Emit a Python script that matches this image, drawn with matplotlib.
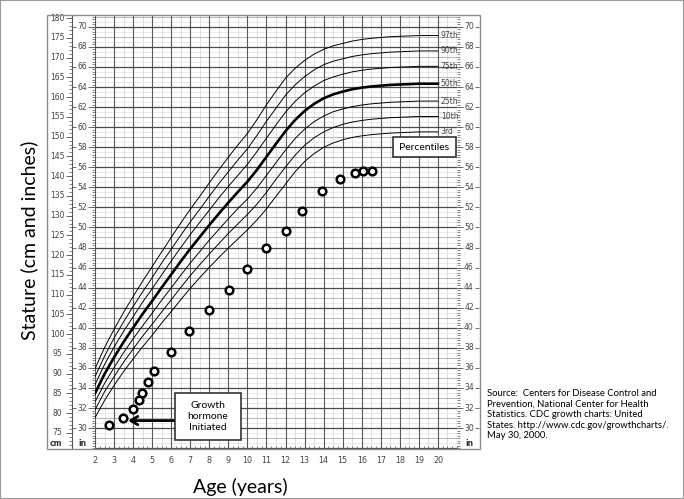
import numpy as np
import matplotlib.pyplot as plt
from matplotlib.patches import Rectangle

W, H = 684, 499

# CDC girls stature-for-age percentiles (cm) at half-year steps
ages = [2.0, 2.5, 3.0, 3.5, 4.0, 4.5, 5.0, 5.5, 6.0, 6.5, 7.0, 7.5, 8.0, 8.5, 9.0, 9.5,
        10.0, 10.5, 11.0, 11.5, 12.0, 12.5, 13.0, 13.5, 14.0, 14.5, 15.0, 15.5, 16.0,
        16.5, 17.0, 17.5, 18.0, 18.5, 19.0, 19.5, 20.0]
p3 = [78.8, 83.2, 87.0, 90.5, 93.7, 96.8, 99.7, 102.8, 105.7, 108.7, 111.6, 114.3, 116.9,
      119.4, 121.8, 124.1, 126.4, 128.9, 131.7, 134.9, 138.0, 141.1, 143.7, 145.7, 147.3,
      148.4, 149.2, 149.8, 150.2, 150.5, 150.7, 150.9, 151.0, 151.1, 151.2, 151.2, 151.2]
p10 = [80.8, 85.4, 89.2, 92.9, 96.2, 99.5, 102.5, 105.6, 108.7, 111.8, 114.8, 117.6, 120.3,
       122.9, 125.5, 127.9, 130.3, 132.9, 135.9, 139.2, 142.3, 145.3, 147.8, 149.7, 151.2,
       152.3, 153.1, 153.7, 154.1, 154.4, 154.6, 154.8, 154.9, 155.0, 155.1, 155.1, 155.1]
p25 = [82.8, 87.5, 91.5, 95.3, 98.8, 102.1, 105.3, 108.6, 111.7, 114.9, 118.0, 120.9, 123.8,
       126.5, 129.2, 131.8, 134.2, 137.0, 140.2, 143.4, 146.6, 149.5, 151.9, 153.8, 155.2,
       156.3, 157.0, 157.6, 158.0, 158.3, 158.5, 158.7, 158.8, 158.9, 159.0, 159.0, 159.0]
p50 = [85.0, 89.9, 94.1, 98.0, 101.6, 105.1, 108.4, 111.8, 115.1, 118.4, 121.6, 124.6, 127.6,
       130.5, 133.3, 136.0, 138.6, 141.6, 144.9, 148.2, 151.4, 154.2, 156.5, 158.3, 159.7,
       160.7, 161.4, 162.0, 162.4, 162.7, 162.9, 163.1, 163.2, 163.3, 163.4, 163.4, 163.4]
p75 = [87.2, 92.3, 96.7, 100.7, 104.4, 108.1, 111.5, 115.0, 118.5, 121.9, 125.2, 128.3, 131.4,
       134.5, 137.4, 140.2, 143.0, 146.2, 149.6, 153.0, 156.2, 158.9, 161.1, 162.8, 164.2,
       165.1, 165.8, 166.4, 166.8, 167.1, 167.3, 167.5, 167.6, 167.7, 167.8, 167.8, 167.8]
p90 = [89.2, 94.4, 99.0, 103.1, 107.0, 110.7, 114.3, 118.0, 121.5, 125.0, 128.4, 131.6, 134.9,
       138.1, 141.1, 144.1, 146.9, 150.3, 153.9, 157.2, 160.5, 163.1, 165.2, 166.9, 168.2,
       169.1, 169.7, 170.3, 170.7, 171.0, 171.2, 171.4, 171.5, 171.6, 171.7, 171.7, 171.7]
p97 = [91.2, 96.6, 101.2, 105.5, 109.5, 113.4, 117.1, 120.8, 124.5, 128.1, 131.6, 134.9, 138.3,
       141.6, 144.8, 147.9, 150.8, 154.3, 158.1, 161.5, 164.8, 167.3, 169.3, 170.9, 172.1,
       173.0, 173.6, 174.2, 174.6, 174.9, 175.1, 175.3, 175.4, 175.5, 175.6, 175.6, 175.6]
pct_names = ['3rd', '10th', '25th', '50th', '75th', '90th', '97th']
pct_series = [p3, p10, p25, p50, p75, p90, p97]

# patient measurements
pt_age = [2.75, 3.49, 3.98, 4.32, 4.49, 4.77, 5.12, 6.0, 6.95, 8.0, 9.05, 10.0,
          11.0, 12.0, 12.88, 13.93, 14.86, 15.63, 16.07, 16.56]
pt_cm = [76.9, 78.8, 81.0, 83.3, 85.0, 87.8, 90.6, 95.5, 100.7, 106.0, 111.2, 116.5,
         121.7, 126.1, 131.1, 136.2, 139.2, 140.9, 141.3, 141.4]

age_ticks = list(range(2, 21))
cm_ticks = list(range(75, 181, 5))
in_ticks = list(range(30, 71, 2))

fig = plt.figure(figsize=(W / 100, H / 100), dpi=100)
ax = fig.add_axes([95 / W, 1 - 449 / H, 362 / W, 434 / H])
ax.set_xlim(2, 21)
ax.set_ylim(70.9, 180.8)
for s in ax.spines.values():
    s.set_visible(False)


def fx(px):
    return (px - 95) / 362


def fig_xy(px, py):
    return px / W, 1 - py / H


# grid
for a in np.arange(2, 21.01, 0.5):
    if a == int(a):
        ax.axvline(a, color='#5a5a5a', lw=0.8, zorder=1)
    else:
        ax.axvline(a, color='#d9d9d9', lw=0.6, zorder=0.5)
for i in np.arange(28, 71.01, 0.5):
    y = i * 2.54
    if i % 2 == 0:
        ax.axhline(y, color='#4a4a4a', lw=0.9, zorder=1)
    elif i == int(i):
        ax.axhline(y, color='#a8a8a8', lw=0.6, zorder=0.8)
    else:
        ax.axhline(y, color='#e2e2e2', lw=0.5, zorder=0.5)

# percentile curves
for name, vals in zip(pct_names, pct_series):
    lw = 1.9 if name == '50th' else 0.7
    ax.plot(ages, vals, color='black', lw=lw, zorder=3)
    ax.text(20.15, vals[-1], name, fontsize=5.5, color='#444444', va='center', ha='left',
            family='DejaVu Sans', zorder=4)

# patient points
ax.plot(pt_age, pt_cm, 'o', ms=5.5, mfc='white', mec='black', mew=1.8, zorder=5)

# scales
yt = ax.get_yaxis_transform()
tick_col = '#555555'
ax.vlines(fx(72), 70.9, 180.8, transform=yt, color=tick_col, lw=0.8, clip_on=False)
ax.hlines(np.arange(71, 181, 1), fx(69), fx(72), transform=yt, color=tick_col, lw=0.5, clip_on=False)
ax.hlines(cm_ticks, fx(66), fx(72), transform=yt, color=tick_col, lw=0.6, clip_on=False)
for c in cm_ticks:
    ax.text(fx(57), c, str(c), transform=yt, fontsize=5.5, color='#444444', ha='center', va='center')
in_cm = [v * 2.54 for v in in_ticks]
minor_in = np.arange(28, 71.01, 0.25) * 2.54
ax.hlines(minor_in, fx(92), fx(95), transform=yt, color=tick_col, lw=0.5, clip_on=False)
ax.hlines(in_cm, fx(72), fx(76), transform=yt, color=tick_col, lw=0.6, clip_on=False)
ax.hlines(in_cm, fx(88), fx(95), transform=yt, color=tick_col, lw=0.6, clip_on=False)
ax.hlines(minor_in, fx(457), fx(460), transform=yt, color=tick_col, lw=0.5, clip_on=False)
ax.hlines(in_cm, fx(457), fx(463), transform=yt, color=tick_col, lw=0.6, clip_on=False)
ax.hlines(in_cm, fx(475), fx(479), transform=yt, color=tick_col, lw=0.6, clip_on=False)
for v, c in zip(in_ticks, in_cm):
    ax.text(fx(82), c, str(v), transform=yt, fontsize=5.5, color='#444444', ha='center', va='center')
    ax.text(fx(469), c, str(v), transform=yt, fontsize=5.5, color='#444444', ha='center', va='center')
fig.text(*fig_xy(56, 444), 'cm', fontsize=5.5, color='#333333', ha='center', va='center', weight='bold')
fig.text(*fig_xy(82, 444), 'in', fontsize=5.5, color='#333333', ha='center', va='center', weight='bold')
fig.text(*fig_xy(469, 444), 'in', fontsize=5.5, color='#333333', ha='center', va='center', weight='bold')

ax.set_yticks([])
ax.set_xticks(age_ticks)
ax.set_xticks(np.arange(2, 21.01, 0.25), minor=True)
ax.tick_params(axis='x', which='major', direction='in', length=4, width=0.6, color=tick_col,
               labelsize=5.8, labelcolor='#444444', pad=5)
ax.tick_params(axis='x', which='minor', direction='in', length=2, width=0.5, color=tick_col)

# chart frame and picture border
x0, y0 = fig_xy(47, 449)
x1, y1 = fig_xy(480, 15)
fig.patches.append(Rectangle((x0, y0), x1 - x0, y1 - y0, transform=fig.transFigure,
                             fill=False, edgecolor='#8c8c8c', lw=1))
fig.patches.append(Rectangle((0, 0), 1, 1, transform=fig.transFigure,
                             fill=False, edgecolor='#9a9a9a', lw=1.5))

# axis titles
fig.text(*fig_xy(29, 240), 'Stature (cm and inches)', rotation=90, fontsize=14,
         family='Lato', ha='center', va='center')
fig.text(*fig_xy(240, 487), 'Age (years)', fontsize=14, family='Lato', ha='center', va='center')

# boxes
bx0, by0 = fig_xy(393, 157)
bx1, by1 = fig_xy(456, 137)
fig.patches.append(Rectangle((bx0, by0), bx1 - bx0, by1 - by0, transform=fig.transFigure,
                             facecolor='white', edgecolor='#333333', lw=1.2, zorder=6))
fig.text(*fig_xy(424.5, 147), 'Percentiles', fontsize=7.5, family='Lato', ha='center',
         va='center', zorder=7)

gx0, gy0 = fig_xy(175, 440)
gx1, gy1 = fig_xy(241, 393)
fig.patches.append(Rectangle((gx0, gy0), gx1 - gx0, gy1 - gy0, transform=fig.transFigure,
                             facecolor='white', edgecolor='#333333', lw=1.2, zorder=6))
fig.text(*fig_xy(208, 416.5), 'Growth\nhormone\nInitiated', fontsize=7.5, family='Lato',
         ha='center', va='center', linespacing=1.3, zorder=7)
ax.annotate('', xy=(3.74, 78.1), xytext=(6.21, 78.1),
            arrowprops=dict(arrowstyle='->,head_length=0.5,head_width=0.3', lw=2,
                            color='black', shrinkA=0, shrinkB=0), zorder=6)

# source note
src = ("Source:  Centers for Disease Control and\n"
       "Prevention, National Center for Health\n"
       "Statistics. CDC growth charts: United\n"
       "States. http://www.cdc.gov/growthcharts/.\n"
       "May 30, 2000.")
fig.text(*fig_xy(487, 389), src, fontsize=6.8, family='Lato', ha='left', va='top',
         linespacing=1.22)

fig.savefig('out.png', dpi=100)
